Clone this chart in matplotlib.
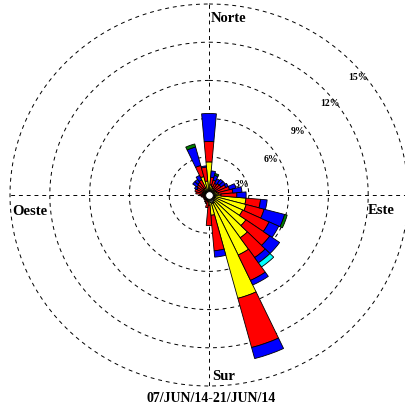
import numpy as np
import matplotlib
matplotlib.use("Agg")
import matplotlib.pyplot as plt

# wind directions (deg from north, clockwise), 10 deg sectors
directions = np.arange(0, 360, 10)

calm_grey = [0.4, 0.2, 0.2, 0.2, 0.2, 0.2, 0.2, 0.2, 0.2, 0.3,
             0.4, 0.5, 0.5, 0.5, 0.6, 0.7, 0.7, 0.6, 0.3, 0.2,
             0.2, 0.2, 0.1, 0.1, 0.1, 0.1, 0.1, 0.1, 0.2, 0.2,
             0.2, 0.2, 0.2, 0.2, 0.3, 0.3]
yellow = [2.2, 0.6, 0.5, 0.4, 0.4, 0.3, 0.4, 0.4, 0.5, 0.6,
          2.4, 2.4, 2.3, 2.9, 3.5, 4.5, 7.7, 1.0, 0.5, 0.3,
          0.2, 0.2, 0.2, 0.2, 0.1, 0.2, 0.2, 0.2, 0.3, 0.3,
          0.3, 0.3, 0.4, 0.4, 1.2, 0.8]
red = [1.6, 0.6, 0.5, 0.4, 0.5, 0.6, 0.8, 1.0, 1.1, 1.2,
       1.1, 1.4, 2.2, 2.2, 1.9, 2.2, 4.0, 2.8, 1.6, 0.5,
       0.3, 0.2, 0.2, 0.2, 0.2, 0.2, 0.3, 0.4, 0.5, 0.6,
       0.5, 0.6, 0.6, 0.7, 0.9, 1.1]
blue = [2.2, 0.5, 0.4, 0.4, 0.4, 0.4, 0.2, 0.5, 0.7, 0.7,
        0.5, 1.6, 0.8, 0.9, 0.5, 0.4, 0.9, 0.5, 0.0, 0.0,
        0.0, 0.0, 0.0, 0.0, 0.0, 0.0, 0.0, 0.0, 0.0, 0.0,
        0.2, 0.4, 0.3, 0.4, 1.5, 0.1]
green = [0.0, 0.0, 0.15, 0.0, 0.0, 0.0, 0.0, 0.0, 0.0, 0.0,
         0.0, 0.2, 0.0, 0.0, 0.0, 0.0, 0.0, 0.0, 0.0, 0.0,
         0.0, 0.0, 0.0, 0.0, 0.0, 0.0, 0.0, 0.0, 0.0, 0.0,
         0.0, 0.0, 0.0, 0.0, 0.25, 0.0]
cyan = [0.0] * 14 + [0.4] + [0.0] * 21

classes = [calm_grey, yellow, red, blue, green, cyan]
class_colors = ["#c8c8c8", "#ffff00", "#ff0000", "#0000ff", "#008000", "#00ffff"]

ring_values = [3, 6, 9, 12, 15]
ring_labels = ["3%", "6%", "9%", "12%", "15%"]
# label anchor points in pixels (x, y from top)
ring_label_px = [(242, 185), (271, 159), (298, 131), (330, 104), (358, 77)]

compass = ["Norte", "Este", "Sur", "Oeste"]
compass_px = [(229, 19), (381, 211), (224, 377), (30, 212)]
period = "07/JUN/14-21/JUN/14"

W, H = 405, 406
CX, CY = 209, 196
RX, RY = 199, 191  # the original rose is slightly squashed vertically
RMAX = 15.2
SERIF = ["Liberation Serif", "DejaVu Serif"]
DASH = (0, (4, 4))


def px(x, y):
    return x / W, 1 - y / H


fig = plt.figure(figsize=(W / 100, H / 100), dpi=100)
ax_rx = RX * RMAX / 15
ax_ry = RY * RMAX / 15
ax = fig.add_axes([(CX - ax_rx) / W, (H - CY - ax_ry) / H, 2 * ax_rx / W, 2 * ax_ry / H],
                  projection="polar")
ax.set_aspect("auto")
ax.set_theta_zero_location("N")
ax.set_theta_direction(-1)
ax.set_ylim(0, RMAX)
ax.grid(False)
ax.set_xticks([])
ax.set_yticks([])
ax.spines["polar"].set_visible(False)
ax.patch.set_alpha(0)

# dashed rings and cross
full = np.linspace(0, 2 * np.pi, 400)
for rv in ring_values:
    ax.plot(full, np.full_like(full, rv), ls=DASH, c="black", lw=0.7, zorder=1)
for ang in (0, np.pi / 2, np.pi, 3 * np.pi / 2):
    ax.plot([ang, ang], [0, 15], ls=DASH, c="black", lw=0.7, zorder=1)

theta = np.deg2rad(directions)
width = np.deg2rad(10)
bottom = np.zeros(len(directions))
for vals, col in zip(classes, class_colors):
    vals = np.asarray(vals)
    mask = vals > 0
    ax.bar(theta[mask], vals[mask], width=width, bottom=bottom[mask], color=col,
           edgecolor="black", linewidth=0.6, zorder=3)
    bottom += vals

ax.scatter([0], [0], s=30, c="white", edgecolors="black", linewidths=0.6, zorder=5)

for lab, (x, y) in zip(ring_labels, ring_label_px):
    fig.text(*px(x, y), lab, ha="center", va="center", fontsize=7,
             fontweight="bold", family=SERIF)
for lab, (x, y) in zip(compass, compass_px):
    fig.text(*px(x, y), lab, ha="center", va="center", fontsize=10.5,
             fontweight="bold", family=SERIF)
fig.text(*px(211, 399), period, ha="center", va="center", fontsize=10,
         fontweight="bold", family=SERIF)

fig.savefig("out.png", dpi=100)
